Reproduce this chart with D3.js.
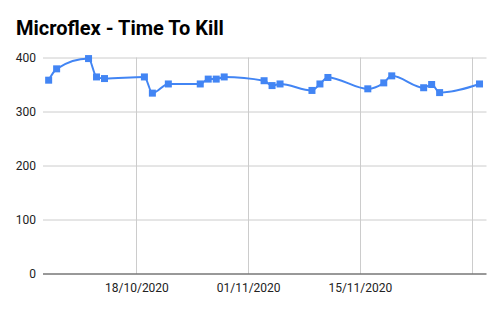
<!DOCTYPE html>
<html>
<head>
<meta charset="utf-8">
<script src="https://cdn.jsdelivr.net/npm/d3@7"></script>
<style>
  body { margin: 0; background: #fff; }
  text { font-family: Roboto, Arial, sans-serif; }
</style>
</head>
<body>
<div id="chart"></div>
<script>
// data
var dates = [
  "07/10/2020", "08/10/2020", "12/10/2020", "13/10/2020", "14/10/2020",
  "19/10/2020", "20/10/2020", "22/10/2020", "26/10/2020", "27/10/2020",
  "28/10/2020", "29/10/2020", "03/11/2020", "04/11/2020", "05/11/2020",
  "09/11/2020", "10/11/2020", "11/11/2020", "16/11/2020", "18/11/2020",
  "19/11/2020", "23/11/2020", "24/11/2020", "25/11/2020", "30/11/2020"
];
var killTimes = [
  358, 379, 398, 364, 361,
  364, 334, 351, 351, 360,
  360, 364, 357, 348, 351,
  339, 351, 363, 342, 353,
  366, 344, 350, 335, 351
];
var yTicks = [0, 100, 200, 300, 400];
var xTicks = ["18/10/2020", "01/11/2020", "15/11/2020", "29/11/2020"];
var chartTitle = "Microflex - Time To Kill";

var parse = d3.timeParse("%d/%m/%Y");
var fmt = d3.timeFormat("%d/%m/%Y");

var data = dates.map(function(d, i) {
    return { date: parse(d), value: killTimes[i] };
});

var w = 502, h = 310;
var margin = { top: 57.5, right: 15.5, bottom: 36.5, left: 43 };
var width = w - margin.left - margin.right;
var height = h - margin.top - margin.bottom;

var svg = d3.select("#chart")
    .append("svg")
    .attr("width", w)
    .attr("height", h);

svg.append("text")
    .attr("x", 16)
    .attr("y", 34.5)
    .style("font-size", "20px")
    .style("font-weight", "bold")
    .style("fill", "#000")
    .text(chartTitle);

var g = svg.append("g")
    .attr("transform", "translate(" + margin.left + "," + margin.top + ")");

var x = d3.scaleTime()
    .domain([d3.timeHour.offset(parse("06/10/2020"), 7), d3.timeHour.offset(parse("30/11/2020"), 21)])
    .range([0, width]);

var y = d3.scaleLinear()
    .domain([0, 400])
    .range([height, 0]);

// horizontal gridlines
g.append("g")
    .selectAll("line")
    .data(yTicks.filter(function(t) { return t > 0; }))
    .enter().append("line")
    .attr("x1", 0)
    .attr("x2", width)
    .attr("y1", function(d) { return Math.round(y(d)) + 0.5; })
    .attr("y2", function(d) { return Math.round(y(d)) + 0.5; })
    .style("stroke", "#ccc")
    .style("stroke-width", 1);

// vertical gridlines
g.append("g")
    .selectAll("line")
    .data(xTicks.map(parse))
    .enter().append("line")
    .attr("x1", function(d) { return Math.round(x(d)) + 0.5; })
    .attr("x2", function(d) { return Math.round(x(d)) + 0.5; })
    .attr("y1", 0)
    .attr("y2", height)
    .style("stroke", "#ccc")
    .style("stroke-width", 1);

// y axis labels
var yAxis = d3.axisLeft(y)
    .tickValues(yTicks)
    .tickSize(0)
    .tickPadding(7);

g.append("g")
    .attr("class", "y-axis")
    .call(yAxis)
    .call(function(s) { s.select(".domain").remove(); })
    .selectAll("text")
    .style("font-size", "12px")
    .style("fill", "#222")
    .style("font-family", "Roboto, Arial, sans-serif");

// x axis labels (last tick has no label)
var xAxis = d3.axisBottom(x)
    .tickValues(xTicks.slice(0, 3).map(parse))
    .tickFormat(fmt)
    .tickSize(0)
    .tickPadding(10);

g.append("g")
    .attr("class", "x-axis")
    .attr("transform", "translate(0," + height + ")")
    .call(xAxis)
    .call(function(s) { s.select(".domain").remove(); })
    .selectAll("text")
    .style("font-size", "12px")
    .style("fill", "#222")
    .style("font-family", "Roboto, Arial, sans-serif");

// baseline at zero
g.append("line")
    .attr("x1", 0)
    .attr("x2", width)
    .attr("y1", Math.round(y(0)) + 0.5)
    .attr("y2", Math.round(y(0)) + 0.5)
    .style("stroke", "#333")
    .style("stroke-width", 1);

var line = d3.line()
    .x(function(d) { return x(d.date); })
    .y(function(d) { return y(d.value); })
    .curve(d3.curveMonotoneX);

g.append("path")
    .datum(data)
    .attr("d", line)
    .style("fill", "none")
    .style("stroke", "#4285f4")
    .style("stroke-width", 2);

g.selectAll(".pt")
    .data(data)
    .enter().append("rect")
    .attr("class", "pt")
    .attr("x", function(d) { return x(d.date) - 3.5; })
    .attr("y", function(d) { return y(d.value) - 3.5; })
    .attr("width", 7)
    .attr("height", 7)
    .style("fill", "#4285f4");
</script>
</body>
</html>
